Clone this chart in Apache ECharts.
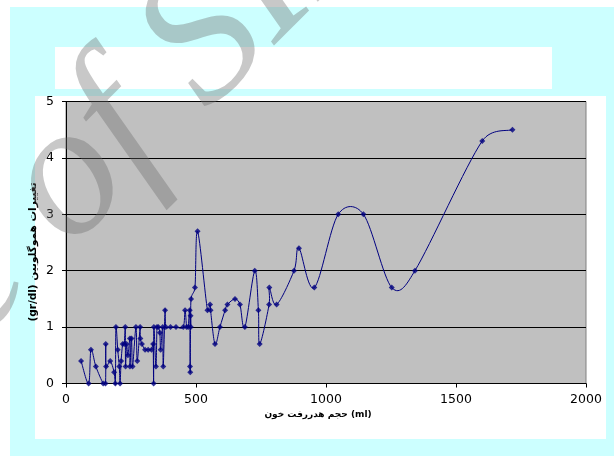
<!DOCTYPE html>
<html>
<head>
<meta charset="utf-8">
<script src="https://cdn.jsdelivr.net/npm/echarts@6/dist/echarts.min.js"></script>
<style>
html,body{margin:0;padding:0;background:#ffffff;}
#chart{width:614px;height:456px;}
</style>
</head>
<body>
<div id="chart"></div>
<script>
// Blood loss volume (ml)
const bloodLoss = [58, 87, 96, 115, 143, 152, 153, 154, 170, 185, 190, 192, 199, 205, 208, 212, 218, 224, 228, 229, 233, 238, 246, 246, 252, 256, 269, 274, 285, 286, 292, 304, 316, 329, 335, 337, 338, 346, 350, 355, 361, 364, 372, 374, 381, 384, 402, 423, 451, 458, 464, 470, 476, 477, 478, 479, 480, 481, 496, 506, 544, 554, 556, 573, 592, 612, 621, 650, 669, 688, 726, 740, 745, 781, 782, 810, 877, 896, 955, 1047, 1144, 1253, 1342, 1601, 1717];
// Hemoglobin change (gr/dl)
const hbChange = [0.4, 0, 0.6, 0.3, 0, 0, 0.7, 0.3, 0.4, 0.2, 0, 1.0, 0.6, 0.3, 0, 0.4, 0.7, 0.7, 1.0, 0.3, 0.7, 0.5, 0.8, 0.3, 0.8, 0.3, 1.0, 0.4, 1.0, 0.8, 0.7, 0.6, 0.6, 0.6, 0.7, 0, 1.0, 0.3, 1.0, 1.0, 0.9, 0.6, 1.0, 0.3, 1.3, 1.0, 1.0, 1.0, 1.0, 1.3, 1.0, 1.0, 1.3, 0.3, 0.2, 1.2, 1.0, 1.5, 1.7, 2.7, 1.3, 1.4, 1.3, 0.7, 1.0, 1.3, 1.4, 1.5, 1.4, 1.0, 2.0, 1.3, 0.7, 1.4, 1.7, 1.4, 2.0, 2.4, 1.7, 3.0, 3.0, 1.7, 2.0, 4.3, 4.5];
const xTicks = [0, 500, 1000, 1500, 2000];
const yTicks = [0, 1, 2, 3, 4, 5];
const xTitle = 'حجم هدررفت خون (ml)';
const yTitle = 'تغییرات هموگلوبین (gr/dl)';
const watermarkLeft = 'Archive ';
const watermarkRight = 'of SID';

const points = bloodLoss.map((v, i) => [v, hbChange[i]]);

// Excel-style smoothed segment between point i and i+1 (Bezier, tension 1/6, capped at half segment)
function renderSegment(params, api) {
  const i = params.dataIndexInside;
  const n = params.dataInsideLength;
  if (i >= n - 1) return null;
  const p = k => api.coord([api.value(0, k), api.value(1, k)]);
  const p0 = p(Math.max(i - 1, 0)), p1 = p(i), p2 = p(i + 1), p3 = p(Math.min(i + 2, n - 1));
  const d = (a, b) => Math.hypot(b[0] - a[0], b[1] - a[1]);
  const d12 = d(p1, p2), d02 = d(p0, p2), d13 = d(p1, p3);
  let f1 = 1 / 6, f2 = 1 / 6;
  if (d02 > 0 && d02 / 6 > d12 / 2) f1 = (d12 / 2) / d02;
  if (d13 > 0 && d13 / 6 > d12 / 2) f2 = (d12 / 2) / d13;
  return {
    type: 'bezierCurve',
    shape: {
      x1: p1[0], y1: p1[1], x2: p2[0], y2: p2[1],
      cpx1: p1[0] + (p2[0] - p0[0]) * f1, cpy1: p1[1] + (p2[1] - p0[1]) * f1,
      cpx2: p2[0] - (p3[0] - p1[0]) * f2, cpy2: p2[1] - (p3[1] - p1[1]) * f2
    },
    style: {stroke: '#000080', lineWidth: 1, fill: null}
  };
}

const chart = echarts.init(document.getElementById('chart'), null, {renderer: 'canvas'});
const wmAngle = 45 * Math.PI / 180;
const wmStyle = {fontSize: 190, fontFamily: 'Liberation Serif', fontStyle: 'italic', fill: 'rgba(107,107,107,0.37)', textVerticalAlign: 'middle'};

chart.setOption({
  animation: false,
  backgroundColor: '#ffffff',
  graphic: [
    {type: 'rect', z: -10, silent: true, shape: {x: 10, y: 7, width: 604, height: 449}, style: {fill: '#ccffff'}},
    {type: 'rect', z: -9, silent: true, shape: {x: 55, y: 47, width: 497, height: 42}, style: {fill: '#ffffff'}},
    {type: 'rect', z: -9, silent: true, shape: {x: 35, y: 96, width: 571, height: 343}, style: {fill: '#ffffff'}},
    {type: 'text', z: 50, silent: true, x: 33, y: 252, rotation: Math.PI / 2,
      style: {text: '\u202B' + yTitle + '\u202C', font: 'bold 10.5px "DejaVu Sans", sans-serif', fill: '#000', textAlign: 'center', textVerticalAlign: 'middle'}},
    {type: 'text', z: 50, silent: true, x: 318, y: 415,
      style: {text: xTitle, font: 'bold 9px "DejaVu Sans", sans-serif', fill: '#000', textAlign: 'center', textVerticalAlign: 'middle'}},
    {type: 'text', z: 100, silent: true, x: 34, y: 215, rotation: wmAngle,
      style: Object.assign({text: watermarkRight, textAlign: 'left'}, wmStyle)},
    {type: 'text', z: 100, silent: true, x: 34, y: 215, rotation: wmAngle,
      style: Object.assign({text: watermarkLeft, textAlign: 'right'}, wmStyle)}
  ],
  grid: {
    left: 66, top: 101.5, width: 520, height: 282,
    show: true, backgroundColor: '#c0c0c0', borderColor: '#808080', borderWidth: 1,
    containLabel: false
  },
  xAxis: {
    type: 'value', min: xTicks[0], max: xTicks[xTicks.length - 1], interval: xTicks[1] - xTicks[0],
    axisLine: {show: true, lineStyle: {color: '#000', width: 1}},
    axisTick: {show: true, inside: false, length: 4, lineStyle: {color: '#000'}},
    axisLabel: {color: '#000', fontFamily: '"DejaVu Sans", sans-serif', fontSize: 12.5, margin: 10, formatter: v => String(v)},
    splitLine: {show: false}
  },
  yAxis: {
    type: 'value', min: yTicks[0], max: yTicks[yTicks.length - 1], interval: yTicks[1] - yTicks[0],
    axisLine: {show: true, lineStyle: {color: '#000', width: 1}},
    axisTick: {show: true, inside: false, length: 4, lineStyle: {color: '#000'}},
    axisLabel: {color: '#000', fontFamily: '"DejaVu Sans", sans-serif', fontSize: 12.5, margin: 12, formatter: v => String(v)},
    splitLine: {show: true, lineStyle: {color: '#000', width: 1}}
  },
  series: [
    {
      type: 'custom',
      data: points,
      encode: {x: 0, y: 1},
      renderItem: renderSegment,
      z: 4
    },
    {
      type: 'scatter',
      data: points,
      symbol: 'diamond',
      symbolSize: 6,
      itemStyle: {color: '#000080'},
      z: 5
    }
  ]
});
</script>
</body>
</html>
